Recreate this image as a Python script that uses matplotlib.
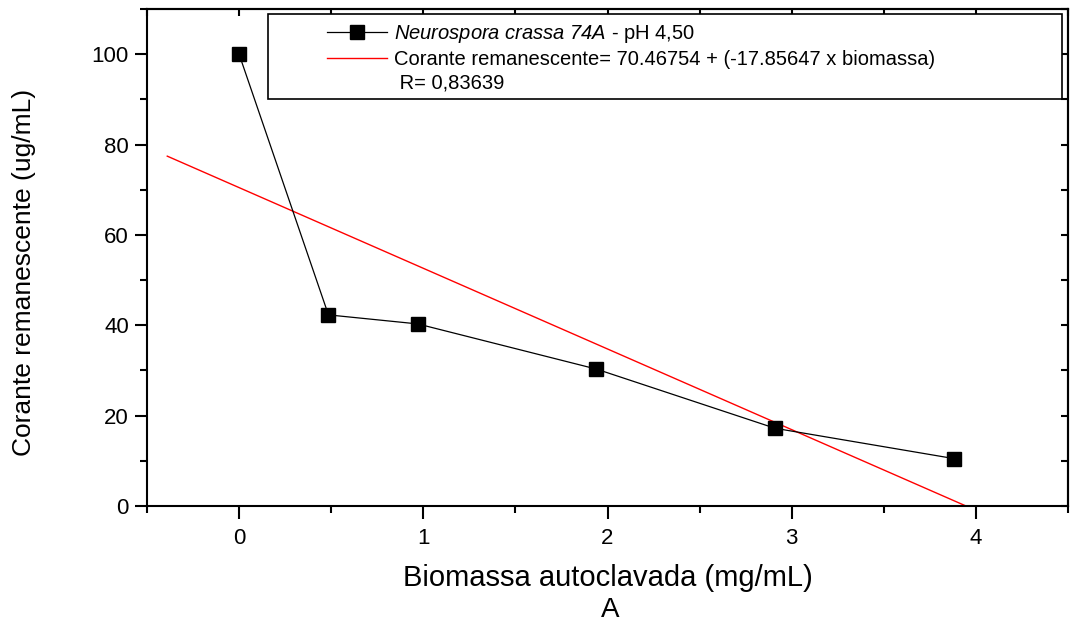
import matplotlib
matplotlib.use("Agg")
import matplotlib.pyplot as plt
import numpy as np
from matplotlib.lines import Line2D
from matplotlib.patches import Rectangle
from matplotlib.ticker import MultipleLocator

plt.rcParams['font.family'] = ['Liberation Sans', 'DejaVu Sans']
plt.rcParams['mathtext.fontset'] = 'custom'
# everything inside $...$ is italic (species name incl. "74A")
plt.rcParams['mathtext.rm'] = 'Liberation Sans:italic'
plt.rcParams['mathtext.it'] = 'Liberation Sans:italic'

# --- data ---
biomassa = [0.0, 0.485, 0.97, 1.94, 2.91, 3.88]
corante = [100.0, 42.3, 40.3, 30.3, 17.2, 10.5]

fit_intercept = 70.46754
fit_slope = -17.85647
fit_xrange = [-0.39, 4.5]

x_ticks = [0, 1, 2, 3, 4]
y_ticks = [0, 20, 40, 60, 80, 100]

label_serie = r"$\mathrm{Neurospora\ crassa\ 74A}$ - pH 4,50"
label_fit = "Corante remanescente= 70.46754 + (-17.85647 x biomassa)"
label_r = " R= 0,83639"

# -----------------------------
fig = plt.figure(figsize=(10.72, 6.30), dpi=100)
ax = fig.add_axes([147 / 1072, 1 - 506 / 630, 921 / 1072, 497 / 630])

fx = np.array(fit_xrange)
ax.plot(fx, fit_intercept + fit_slope * fx, color='red', lw=1.0, zorder=2)
ax.plot(biomassa, corante, color='black', lw=0.9, marker='s', ms=10.5,
        mec='black', mfc='black', zorder=3)

ax.set_xlim(-0.5, 4.5)
ax.set_ylim(0, 110)
ax.set_xticks(x_ticks)
ax.set_yticks(y_ticks)
ax.xaxis.set_minor_locator(MultipleLocator(0.5))
ax.yaxis.set_minor_locator(MultipleLocator(10))

for sp in ax.spines.values():
    sp.set_linewidth(1.5)

ax.tick_params(which='major', direction='out', length=9, width=1.5,
               labelsize=16, pad=4)
ax.tick_params(axis='x', which='major', pad=7)
ax.tick_params(which='minor', direction='out', length=5, width=1.5)

# inward ticks on top and right
top = ax.secondary_xaxis('top')
top.set_xticks(np.arange(-0.5, 4.51, 0.5))
top.tick_params(direction='in', length=5, width=1.5, labeltop=False)
right = ax.secondary_yaxis('right')
right.set_yticks(np.arange(0, 111, 10))
right.tick_params(direction='in', length=5, width=1.5, labelright=False)
for s in (top, right):
    for sp in s.spines.values():
        sp.set_linewidth(1.5)

ax.set_ylabel("Corante remanescente (ug/mL)", fontsize=19, va='center')
ax.yaxis.set_label_coords(-0.134, 0.47)
ax.set_xlabel("Biomassa autoclavada (mg/mL)", fontsize=21, labelpad=11)
fig.text(0.569, 1 - 610 / 630, "A", fontsize=20, ha='center', va='center')

# legend box
ax.add_patch(Rectangle((0.1314, 0.819), 0.862, 0.171, transform=ax.transAxes,
                       facecolor='white', edgecolor='black', lw=1.2, zorder=4))
handles = [
    Line2D([], [], color='black', lw=0.9, marker='s', ms=10, mfc='black'),
    Line2D([], [], color='red', lw=1.0),
    Line2D([], [], color='none'),
]
leg = ax.legend(handles, [label_serie, label_fit, label_r], loc='upper left',
                bbox_to_anchor=(0.1954, 0.972), borderpad=0, borderaxespad=0,
                frameon=False, fontsize=14.5, handlelength=3.0,
                handletextpad=0.35, labelspacing=0.25, numpoints=1)
leg.set_zorder(5)

fig.savefig("out.png", dpi=100)
